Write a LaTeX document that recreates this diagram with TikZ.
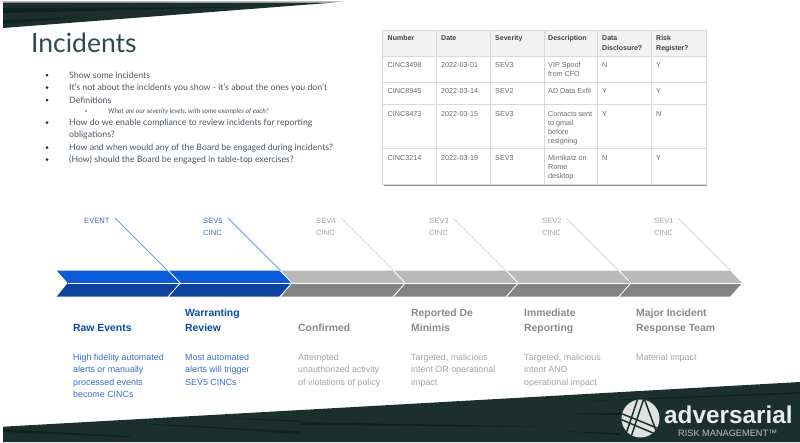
\documentclass[tikz,border=0pt]{standalone}
\usepackage{fontspec}
\setmainfont{Lato}
\newfontfamily\rb{Liberation Sans}
\definecolor{band}{HTML}{1B302D}
\definecolor{bandb}{HTML}{10221F}
\definecolor{ttl}{HTML}{2F4A4E}
\definecolor{bul}{HTML}{4A5560}
\definecolor{bluetxt}{HTML}{3A6CCB}
\definecolor{blueln}{HTML}{6F9AE0}
\definecolor{bluehi}{HTML}{0B5CDB}
\definecolor{bluelo}{HTML}{0A43A0}
\definecolor{grayhi}{HTML}{B9B9B9}
\definecolor{graylo}{HTML}{838383}
\definecolor{graytxt}{HTML}{A3A3A3}
\definecolor{rule}{HTML}{D9D9D9}
\definecolor{tabtxt}{HTML}{6A6A6A}
\tikzset{
  lab/.style={inner sep=0pt,anchor=base west,align=left},
  sevlab/.style={lab,font=\rb\fontsize{7.6}{12}\selectfont},
  headlab/.style={lab,font=\rb\bfseries\fontsize{10.4}{15}\selectfont},
  bodylab/.style={lab,font=\rb\fontsize{8.9}{12.5}\selectfont},
  bullet/.style={lab,text=bul,font=\fontsize{8.75}{12}\selectfont},
  dot/.style={circle,fill=black!85,inner sep=0pt,minimum size=3pt},
  cell/.style={lab,text=tabtxt,font=\rb\fontsize{7.2}{9}\selectfont},
  hcell/.style={lab,text=black!75,font=\rb\bfseries\fontsize{7}{10}\selectfont},
  fish/.style={line width=.8pt},
  logoline/.style={band,line width=1.5pt},
}
% #1 left x, #2 tip x, #3 hi colour, #4 lo colour
\newcommand{\chev}[4]{%
  \fill[#3] (#1,270.5) -- (#2-12,270.5) -- (#2,283) -- (#1+11,283) -- cycle;
  \fill[#4] (#1+11,283) -- (#2,283) -- (#2-12,296.7) -- (#1,296.7) -- cycle;
  \draw[white,line width=.5pt] (#1+11,283) -- (#2,283);
}
\begin{document}
\begin{tikzpicture}[x=1pt,y=-1pt]
\useasboundingbox (0,0) rectangle (800,442);
\fill[white] (0,0) rectangle (800,442);
% top band
\fill[black!25] (3,1) -- (345,1) -- (335,2.5) -- (3,3) -- cycle;
\fill[band] (3,2.5) -- (335,2.5) -- (3,28) -- cycle;
\fill[bandb] (3,8) -- (260,7) -- (3,13) -- cycle;
\fill[bandb] (3,20) -- (90,17) -- (3,24) -- cycle;
% bottom band
\fill[band] (3,426.7) -- (800,382) -- (800,442) -- (3,442) -- cycle;
\fill[bandb] (3,429) -- (130,436) -- (130,437.5) -- (3,432) -- cycle;
\fill[bandb] (130,423) -- (300,431) -- (300,434) -- cycle;
\fill[bandb] (220,418) -- (300,420) -- (300,422) -- cycle;
\fill[bandb] (300,422) -- (560,427) -- (300,425) -- cycle;
\fill[bandb] (560,402) -- (800,392) -- (800,394) -- cycle;
\fill[bandb] (560,414) -- (620,413) -- (620,415) -- cycle;
\fill[bandb] (560,431) -- (620,433) -- (620,435) -- cycle;
% title and bullets
\node[lab,text=ttl,font=\fontsize{26.5}{30}\selectfont] (title) at (31,52) {Incidents};
\node[dot] (b1) at (47,75) {}; \node[bullet] (t1) at (69,78) {Show some incidents};
\node[dot] (b2) at (47,87.5) {}; \node[bullet] (t2) at (69,90.5) {It's not about the incidents you show - it's about the ones you don't};
\node[dot] (b3) at (47,100) {}; \node[bullet] (t3) at (69,103) {Definitions};
\node[circle,draw=black!50,line width=.3pt,inner sep=0pt,minimum size=1.8pt] (b3a) at (86,111) {};
\node[bullet,font=\itshape\fontsize{6.7}{9}\selectfont] (t3a) at (108,113.5) {What are our severity levels, with some examples of each?};
\node[dot] (b4) at (47,122.5) {}; \node[bullet] (t4) at (69,137.5) {How do we enable compliance to review incidents for reporting\\obligations?};
\node[dot] (b5) at (47,147.5) {}; \node[bullet] (t5) at (69,150.5) {How and when would any of the Board be engaged during incidents?};
\node[dot] (b6) at (47,159.5) {}; \node[bullet] (t6) at (69,162.5) {(How) should the Board be engaged in table-top exercises?};
% table
\fill[black!45] (383.5,31) rectangle (707,185.5);
\fill[white] (382.5,30) rectangle (706,184);
\fill[black!5] (382.5,30) rectangle (706,56.7);
\foreach \yy in {56.7,82,104.7,148.7} \draw[rule,line width=.6pt] (382.5,\yy) -- (706,\yy);
\foreach \xx in {436.7,490,544,597.7,651} \draw[rule,line width=.6pt] (\xx,30) -- (\xx,184);
\draw[rule,line width=.6pt] (382.5,30) rectangle (706,184);
\node[hcell] (h1) at (387.5,40.5) {Number};
\node[hcell] (h2) at (441,40.5) {Date};
\node[hcell] (h3) at (495,40.5) {Severity};
\node[hcell] (h4) at (548,40.5) {Description};
\node[hcell] (h5) at (602,50.5) {Data\\Disclosure?};
\node[hcell] (h6) at (656,50.5) {Risk\\Register?};
\foreach \rr/\yt/\yd/\ca/\cb/\cc/\cd/\ce/\cf in {
  a/67.5/76.5/CINC3498/2022-03-01/SEV3/{VIP Spoof\\from CFO}/N/Y,
  b/93/93/CINC8945/2022-03-14/SEV2/{AD Data Exfil}/Y/Y,
  c/116.5/143.5/CINC8473/2022-03-15/SEV3/{Contacts sent\\to gmail\\before\\resigning}/Y/N,
  d/160/178/CINC3214/2022-03-19/SEV3/{Mimikatz on\\Rome\\desktop}/N/Y}{
  \node[cell] (\rr1) at (387.5,\yt) {\ca};
  \node[cell] (\rr2) at (441,\yt) {\cb};
  \node[cell] (\rr3) at (495,\yt) {\cc};
  \node[cell] (\rr4) at (548,\yd) {\cd};
  \node[cell] (\rr5) at (602,\yt) {\ce};
  \node[cell] (\rr6) at (656,\yt) {\cf};
}
% chevrons
\chev{56.7}{180}{bluehi}{bluelo}
\chev{169}{291.7}{bluehi}{bluelo}
\chev{281}{405}{grayhi}{graylo}
\chev{394}{518}{grayhi}{graylo}
\chev{507}{630.6}{grayhi}{graylo}
\chev{619.5}{742}{grayhi}{graylo}
\foreach \tp in {180,291.7,405,518,630.6}
  \draw[white,line width=.8pt] (\tp-12.3,270) -- (\tp+.3,283) -- (\tp-12.3,297.2);
% severity labels and fish lines
\node[sevlab,text=bluetxt] (s0) at (84,223) {EVENT};
\node[sevlab,text=bluetxt] (s1) at (203,235) {SEV5\\CINC};
\node[sevlab,text=graytxt] (s2) at (316,235) {SEV4\\CINC};
\node[sevlab,text=graytxt] (s3) at (429,235) {SEV3\\CINC};
\node[sevlab,text=graytxt] (s4) at (542,235) {SEV2\\CINC};
\node[sevlab,text=graytxt] (s5) at (654,235) {SEV1\\CINC};
\foreach \ix/\ax/\lc in {0/115/blueln,1/228/blueln,2/341/rule,3/453/rule,4/566/rule,5/678/rule}{
  \coordinate (f\ix) at (\ax,218);
  \coordinate (g\ix) at (\ax+52.5,270.5);
  \draw[color=\lc,fish] (f\ix) -- (g\ix);
}
% headings
\node[headlab,text=bluehi!80!black] (r0) at (73,331.5) {Raw Events};
\node[headlab,text=bluehi!80!black] (r1) at (185,331.5) {Warranting\\Review};
\node[headlab,text=graytxt!85!black] (r2) at (298,331.5) {Confirmed};
\node[headlab,text=graytxt!85!black] (r3) at (411,331.5) {Reported De\\Minimis};
\node[headlab,text=graytxt!85!black] (r4) at (524,331.5) {Immediate\\Reporting};
\node[headlab,text=graytxt!85!black] (r5) at (636,331.5) {Major Incident\\Response Team};
% descriptions
\node[bodylab,text=bluetxt] (d0) at (73,397.5) {High fidelity automated\\alerts or manually\\processed events\\become CINCs};
\node[bodylab,text=bluetxt] (d1) at (185,385) {Most automated\\alerts will trigger\\SEV5 CINCs};
\node[bodylab,text=graytxt] (d2) at (298,385) {Attempted\\unauthorized activity\\of violations of policy};
\node[bodylab,text=graytxt] (d3) at (411,385) {Targeted, malicious\\intent OR operational\\impact};
\node[bodylab,text=graytxt] (d4) at (524,385) {Targeted, malicious\\intent AND\\operational impact};
\node[bodylab,text=graytxt] (d5) at (636,360) {Material impact};
% logo
\fill[black!12] (640.5,418.5) circle (19);
\begin{scope}
\clip (640.5,418.5) circle (19);
\draw[logoline] (644,398) -- (630,440);
\draw[logoline] (638,398) -- (624,440);
\draw[logoline] (644,398) -- (658,436);
\draw[logoline] (620,413) -- (662,430);
\draw[logoline] (620,419) -- (660,436);
\end{scope}
\node[lab,text=black!8,font=\rb\bfseries\fontsize{24.3}{24}\selectfont] (adv) at (664,423) {adversarial};
\node[lab,text=black!25,font=\rb\fontsize{9.2}{10}\selectfont] (rm) at (678,436) {RISK MANAGEMENT™};
\end{tikzpicture}
\end{document}
